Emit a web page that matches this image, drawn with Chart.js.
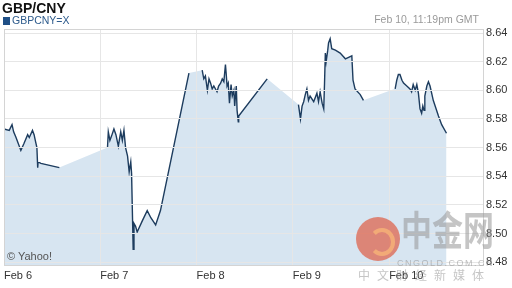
<!DOCTYPE html>
<html>
<head>
<meta charset="utf-8">
<script src="https://cdn.jsdelivr.net/npm/chart.js@4/dist/chart.umd.min.js"></script>
<style>
  body { margin: 0; background: #fff; font-family: Arial, "Liberation Sans", sans-serif; }
  #wrap { position: relative; width: 512px; height: 288px; overflow: hidden; }
  #c { position: absolute; left: 0; top: 0; }
  .txt { position: absolute; white-space: nowrap; pointer-events: none; }
  #title { left: 2px; top: 1px; font-size: 14px; line-height: 14px; font-weight: bold; color: #111; }
  #swatch { position: absolute; left: 3px; top: 17px; width: 7px; height: 8px; background: #1f4f86; }
  #series { left: 12px; top: 15px; font-size: 10.5px; line-height: 11px; color: #2d5b8c; }
  #stamp { right: 33px; top: 14px; font-size: 10.5px; line-height: 11px; color: #9a9a9a; }
  #yahoo { left: 7px; top: 250px; font-size: 11px; line-height: 12px; color: #555; }
  #logo { position: absolute; left: 356px; top: 217px; width: 44px; height: 44px; border-radius: 50%;
          background: rgba(222, 96, 72, 0.72); pointer-events: none; }
  #logo2 { position: absolute; left: 369px; top: 228px; width: 18px; height: 20px; border-radius: 50%;
           border: 4px solid rgba(246, 178, 120, 0.85); border-left-color: transparent; pointer-events: none; }
  #wm { left: 401px; top: 207px; font-size: 31px; line-height: 31px; font-weight: bold; color: rgba(150, 150, 150, 0.55);
        font-family: "Noto Sans CJK SC", sans-serif; transform: scaleY(1.3); transform-origin: top left; }
  #wm2 { left: 397px; top: 258px; font-size: 9px; line-height: 10px; letter-spacing: 1.5px; color: rgba(150, 150, 150, 0.6); }
  #wm3 { left: 358px; top: 268px; font-size: 12px; line-height: 14px; letter-spacing: 7px; color: rgba(150, 150, 150, 0.55);
         font-family: "Noto Sans CJK SC", sans-serif; }
</style>
</head>
<body>
<div id="wrap">
  <canvas id="c" width="512" height="288"></canvas>
  <div id="title" class="txt">GBP/CNY</div>
  <div id="swatch"></div>
  <div id="series" class="txt">GBPCNY=X</div>
  <div id="stamp" class="txt">Feb 10, 11:19pm GMT</div>
  <div id="yahoo" class="txt">© Yahoo!</div>
  <div id="logo"></div>
  <div id="logo2"></div>
  <div id="wm" class="txt">中金网</div>
  <div id="wm2" class="txt">CNGOLD.COM.CN</div>
  <div id="wm3" class="txt">中文财经新媒体</div>
</div>
<script>
// hours since Feb 6 00:00 and GBP/CNY rate, one pair of arrays per trading stretch
var feb6Hours  = [0, 1.3, 2.0, 2.4, 3.0, 4.2, 5.0, 5.9, 6.3, 7.1, 7.5, 7.8, 8.2, 8.4, 8.5, 9.2, 13.8];
var feb6Prices = [8.573, 8.572, 8.576, 8.571, 8.567, 8.558, 8.563, 8.569, 8.567, 8.572, 8.569, 8.565, 8.560, 8.546, 8.550, 8.549, 8.546];

var feb7Hours  = [25.8, 26.0, 26.4, 26.8, 27.4, 27.9, 28.5, 29.1, 29.5, 29.9, 30.3, 30.8, 31.2, 31.6, 31.8, 32.2, 32.4, 32.8, 33.2, 34.5, 35.7, 36.6, 37.8, 39.0, 46.1];
var feb7Prices = [8.560, 8.571, 8.565, 8.568, 8.573, 8.569, 8.561, 8.571, 8.565, 8.572, 8.560, 8.554, 8.543, 8.550, 8.542, 8.489, 8.507, 8.505, 8.501, 8.509, 8.516, 8.511, 8.506, 8.516, 8.612];

var feb8Hours  = [49.4, 49.8, 50.2, 50.7, 51.1, 51.5, 51.9, 52.3, 53.1, 53.5, 54.0, 54.4, 54.8, 55.2, 55.4, 55.6, 55.9, 56.2, 56.6, 56.9, 57.3, 57.5, 57.9, 58.1, 58.4, 58.5, 65.6];
var feb8Prices = [8.614, 8.608, 8.610, 8.600, 8.608, 8.605, 8.601, 8.603, 8.599, 8.603, 8.605, 8.608, 8.606, 8.618, 8.611, 8.603, 8.605, 8.591, 8.604, 8.596, 8.600, 8.589, 8.603, 8.586, 8.578, 8.582, 8.608];

var feb9Hours  = [73.4, 73.9, 74.3, 74.7, 75.1, 75.5, 75.9, 76.3, 77.2, 78.0, 78.4, 78.8, 79.3, 79.7, 79.9, 80.1, 80.3, 80.7, 80.9, 81.3, 81.7, 82.6, 83.8, 85.1, 85.9, 86.7, 87.0, 87.5, 88.8, 89.6];
var feb9Prices = [8.590, 8.580, 8.589, 8.592, 8.597, 8.601, 8.593, 8.596, 8.592, 8.598, 8.592, 8.599, 8.591, 8.587, 8.605, 8.626, 8.620, 8.628, 8.633, 8.636, 8.629, 8.628, 8.626, 8.622, 8.623, 8.624, 8.607, 8.601, 8.597, 8.593];

var feb10Hours  = [97.5, 97.9, 98.3, 98.7, 99.2, 99.6, 100.4, 101.2, 101.6, 102.0, 102.5, 102.9, 103.3, 103.7, 104.1, 104.4, 104.7, 104.9, 105.4, 105.8, 106.2, 107.0, 108.3, 109.1, 110.3];
var feb10Prices = [8.601, 8.607, 8.611, 8.611, 8.607, 8.605, 8.603, 8.601, 8.599, 8.604, 8.600, 8.604, 8.598, 8.587, 8.584, 8.589, 8.586, 8.596, 8.603, 8.606, 8.603, 8.593, 8.582, 8.576, 8.570];

var dayTicks  = [0, 24, 48, 72, 96];
var dayLabels = ['Feb 6', 'Feb 7', 'Feb 8', 'Feb 9', 'Feb 10'];
var priceTicks = [8.48, 8.50, 8.52, 8.54, 8.56, 8.58, 8.60, 8.62, 8.64];

var stretches = [
  [feb6Hours, feb6Prices], [feb7Hours, feb7Prices], [feb8Hours, feb8Prices],
  [feb9Hours, feb9Prices], [feb10Hours, feb10Prices]
];

// line breaks between stretches, the shaded area does not
var linePoints = [];
var areaPoints = [];
stretches.forEach(function(s, i){
  if (i > 0) {
    linePoints.push({x: s[0][0] - 0.05, y: null});
  }
  for (var k = 0; k < s[0].length; k++) {
    linePoints.push({x: s[0][k], y: s[1][k]});
    areaPoints.push({x: s[0][k], y: s[1][k]});
  }
});

var plotBox = {
  id: 'plotBox',
  afterDraw: function(chart){
    var a = chart.chartArea, ctx = chart.ctx;
    ctx.save();
    ctx.strokeStyle = '#d4d4d4';
    ctx.lineWidth = 1;
    ctx.strokeRect(a.left + 0.5, a.top + 0.5, a.right - a.left, a.bottom - a.top);
    ctx.restore();
  }
};

Chart.defaults.font.family = 'Arial, "Liberation Sans", sans-serif';

new Chart(document.getElementById('c'), {
  type: 'line',
  data: {
    datasets: [
      {
        label: 'GBPCNY=X',
        data: linePoints,
        borderColor: '#1d3c5e',
        borderWidth: 1.4,
        pointRadius: 0,
        fill: false,
        spanGaps: false,
        tension: 0
      },
      {
        label: 'area',
        data: areaPoints,
        borderWidth: 0,
        borderColor: 'rgba(0,0,0,0)',
        backgroundColor: '#d7e5f1',
        pointRadius: 0,
        fill: 'start',
        tension: 0
      }
    ]
  },
  options: {
    responsive: false,
    animation: false,
    layout: { padding: { top: 29, left: 3 } },
    plugins: { legend: { display: false }, tooltip: { enabled: false } },
    scales: {
      x: {
        type: 'linear',
        min: 0,
        max: 119.4,
        afterBuildTicks: function(s){ s.ticks = dayTicks.map(function(v){ return {value: v}; }); },
        afterFit: function(s){ s.height = 23; },
        ticks: {
          autoSkip: false,
          maxRotation: 0,
          align: 'start',
          padding: 4,
          color: '#333',
          font: { size: 11 },
          callback: function(v){ return dayLabels[dayTicks.indexOf(v)]; }
        },
        grid: { color: '#e6e6e6', drawTicks: false, z: 1 },
        border: { display: false }
      },
      y: {
        position: 'right',
        min: 8.478,
        max: 8.6428,
        afterBuildTicks: function(s){ s.ticks = priceTicks.map(function(v){ return {value: v}; }); },
        afterFit: function(s){ s.width = 29; },
        ticks: {
          padding: 3,
          color: '#333',
          font: { size: 11 },
          callback: function(v){ return v.toFixed(2); }
        },
        grid: { color: '#e6e6e6', drawTicks: false, z: 1 },
        border: { display: false }
      }
    }
  },
  plugins: [plotBox]
});
</script>
</body>
</html>
